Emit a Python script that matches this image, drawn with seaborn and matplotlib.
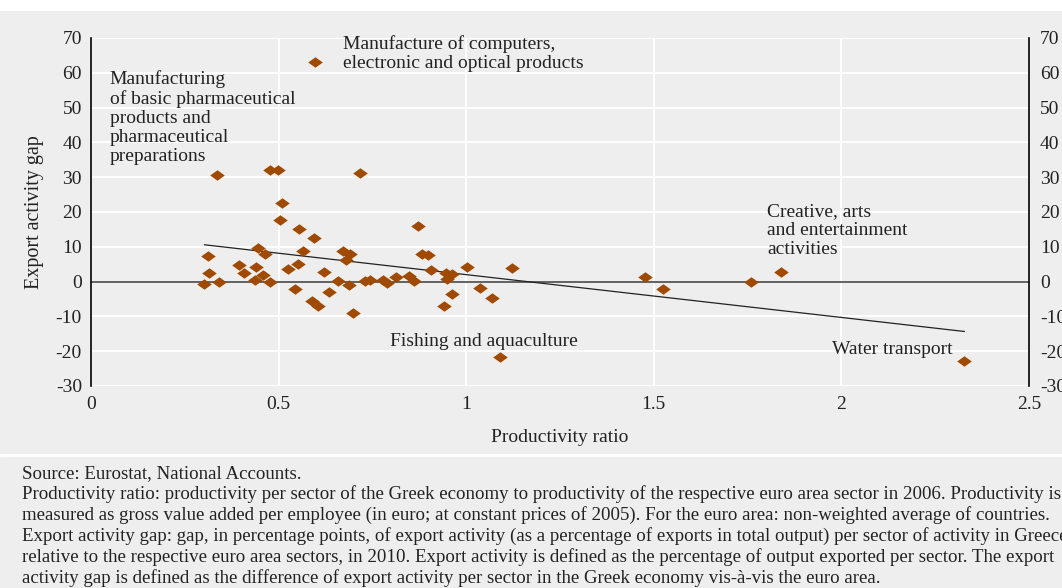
import matplotlib
matplotlib.use("Agg")
import matplotlib.pyplot as plt
from matplotlib.lines import Line2D
from matplotlib.patches import Rectangle
from matplotlib.path import Path
import seaborn as sns
import pandas as pd
import numpy as np

sns.set_theme(style="darkgrid")
plt.rcParams['font.family'] = ['Liberation Serif', 'DejaVu Serif']
plt.rcParams['axes.unicode_minus'] = False

# productivity ratio (x) and export activity gap (y)
productivity = [0.597, 0.335, 0.477, 0.498, 0.718, 0.509, 0.505, 0.554, 0.594, 0.446,
                0.464, 0.564, 0.671, 0.690, 0.679, 0.311, 0.315, 0.302, 0.342, 0.395,
                0.408, 0.439, 0.436, 0.459, 0.478, 0.524, 0.553, 0.543, 0.620, 0.633,
                0.590, 0.606, 0.699, 0.659, 0.688, 0.730, 0.744, 0.777, 0.790, 0.812,
                0.847, 0.862, 0.871, 0.883, 0.898, 0.905, 0.945, 0.961, 0.948, 0.963,
                0.941, 1.002, 1.037, 1.070, 1.123, 1.090, 1.477, 1.524, 1.759, 1.838,
                2.328]
export_gap = [63.0, 30.5, 32.1, 32.1, 31.3, 22.6, 17.7, 15.0, 12.6, 9.6,
              7.8, 8.9, 8.9, 7.9, 6.3, 7.4, 2.5, -0.8, 0.0, 4.8,
              2.4, 4.1, 0.5, 1.9, 0.0, 3.5, 5.2, -2.0, 2.8, -3.1,
              -5.7, -7.1, -9.1, 0.1, -1.1, 0.1, 0.5, 0.6, -0.4, 1.4,
              1.7, 0.1, 16.0, 8.0, 7.5, 3.4, 2.5, 2.2, 0.8, -3.7,
              -7.1, 4.1, -1.7, -4.7, 3.8, -21.8, 1.4, -2.1, 0.0, 2.7,
              -22.9]

# linear trend as drawn on the chart
trend_intercept = 14.3
trend_slope = -12.3

x_ticks = [0, 0.5, 1, 1.5, 2, 2.5]
x_tick_labels = ["0", "0.5", "1", "1.5", "2", "2.5"]
y_ticks = [-30, -20, -10, 0, 10, 20, 30, 40, 50, 60, 70]

labels = [
    ("Manufacture of computers,\nelectronic and optical products", 0.672, 70.8, "top"),
    ("Manufacturing\nof basic pharmaceutical\nproducts and\npharmaceutical\npreparations", 0.050, 60.8, "top"),
    ("Creative, arts\nand entertainment\nactivities", 1.802, 22.6, "top"),
    ("Fishing and aquaculture", 0.797, -17.2, "center"),
    ("Water transport", 1.975, -19.6, "center"),
]

notes = ("Source: Eurostat, National Accounts.\n"
         "Productivity ratio: productivity per sector of the Greek economy to productivity of the respective euro area sector in 2006. Productivity is\n"
         "measured as gross value added per employee (in euro; at constant prices of 2005). For the euro area: non-weighted average of countries.\n"
         "Export activity gap: gap, in percentage points, of export activity (as a percentage of exports in total output) per sector of activity in Greece,\n"
         "relative to the respective euro area sectors, in 2010. Export activity is defined as the percentage of output exported per sector. The export\n"
         "activity gap is defined as the difference of export activity per sector in the Greek economy vis-\u00e0-vis the euro area.")

df = pd.DataFrame({"productivity": productivity, "gap": export_gap})

bg = "#eeeeee"
ink = "#222222"
marker_color = "#a04a00"
diamond = Path([(-1, 0), (0, 0.72), (1, 0), (0, -0.72), (-1, 0)],
               [Path.MOVETO, Path.LINETO, Path.LINETO, Path.LINETO, Path.CLOSEPOLY])

fig = plt.figure(figsize=(10.62, 5.88), dpi=100, facecolor=bg)
ax = fig.add_axes([91 / 1062, 1 - 386 / 588, 938 / 1062, 348 / 588])
ax.set_facecolor(bg)

ax.grid(True, color="white", lw=1.4)
ax.axhline(0, color="#555555", lw=1.3, zorder=2)

trend_x = np.array([df.productivity.min(), df.productivity.max()])
ax.plot(trend_x, trend_intercept + trend_slope * trend_x, color=ink, lw=0.9, zorder=3)

sns.scatterplot(data=df, x="productivity", y="gap", marker=diamond, s=110,
                color=marker_color, linewidth=0, ax=ax, zorder=4)

ax.set_xlim(0, 2.5)
ax.set_ylim(-30, 70)
ax.set_xticks(x_ticks)
ax.set_xticklabels(x_tick_labels)
ax.set_yticks(y_ticks)
ax.tick_params(axis="both", length=0, labelsize=14, colors=ink)
ax.tick_params(axis="x", pad=7)
ax.tick_params(axis="y", pad=6.5)

for side in ["top", "bottom", "right"]:
    ax.spines[side].set_visible(False)
ax.spines["left"].set_color("black")
ax.spines["left"].set_linewidth(1.2)

ax.set_xlabel("Productivity ratio", fontsize=14, color=ink)
ax.set_ylabel("Export activity gap", fontsize=14.5, color=ink)
ax.xaxis.set_label_coords(0.5, -0.125)
ax.yaxis.set_label_coords(-(91 - 44) / 938, 0.5)

ax2 = ax.twinx()
ax2.set_ylim(-30, 70)
ax2.set_yticks(y_ticks)
ax2.grid(False)
ax2.patch.set_visible(False)
ax2.tick_params(axis="y", length=0, labelsize=14, colors=ink, pad=8)
for side in ["top", "bottom", "left"]:
    ax2.spines[side].set_visible(False)
ax2.spines["right"].set_color("black")
ax2.spines["right"].set_linewidth(1.2)

for text, x, y, va in labels:
    ax.text(x, y, text, ha="left", va=va, fontsize=14, color=ink,
            linespacing=1.15, zorder=5)

fig.add_artist(Rectangle((0, 1 - 11 / 588), 1, 11 / 588, transform=fig.transFigure,
                         facecolor="white", edgecolor="none"))
fig.add_artist(Line2D([0, 1], [1 - 455 / 588] * 2, transform=fig.transFigure,
                      color="white", lw=2))
fig.text(22 / 1062, 1 - 465 / 588, notes, ha="left", va="top", fontsize=13.6,
         color=ink, linespacing=1.23)

fig.savefig("out.png", dpi=100, facecolor=bg)
